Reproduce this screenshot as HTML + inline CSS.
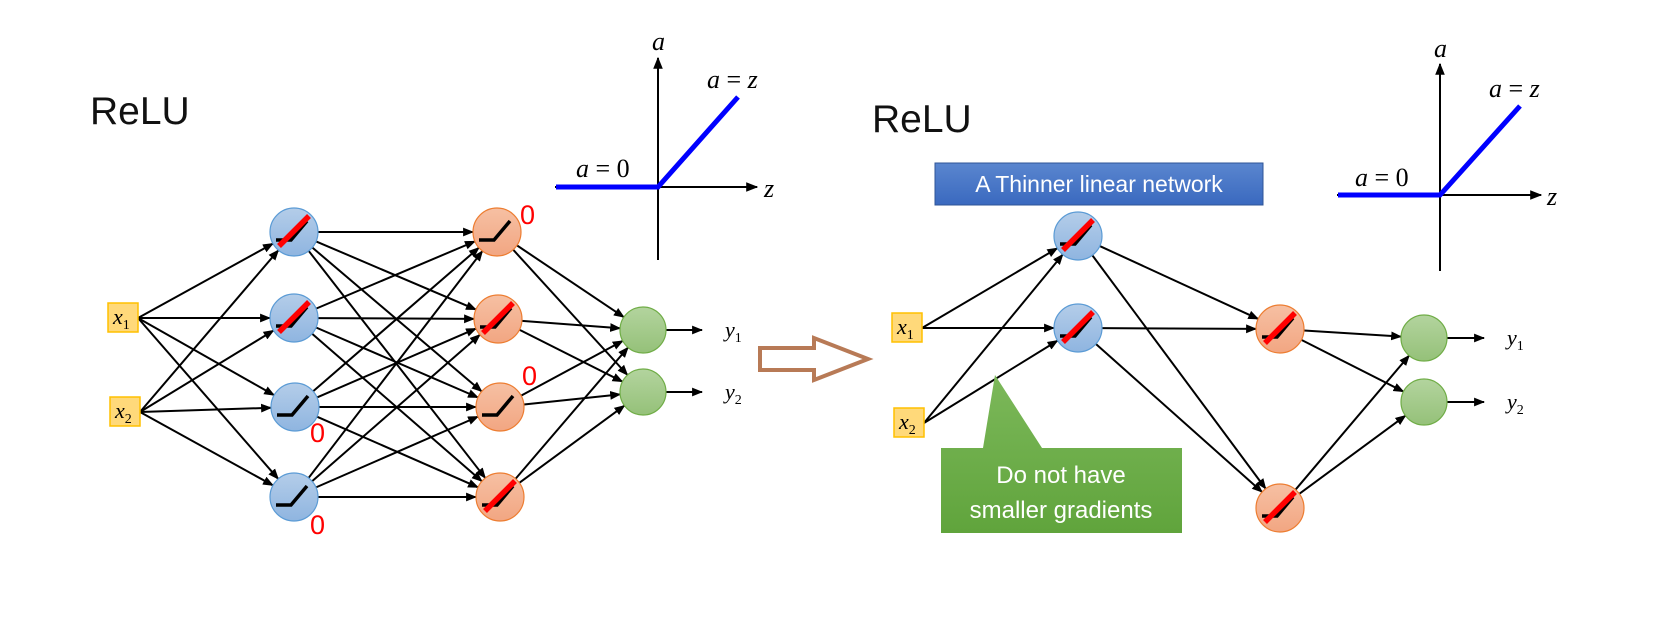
<!DOCTYPE html>
<html><head><meta charset="utf-8"><style>
html,body{margin:0;padding:0;background:#fff;}
svg{display:block;}
text{font-family:"Liberation Sans",sans-serif;}
.m{font-family:"Liberation Serif",serif;font-style:italic;}
</style></head><body>
<svg id="s" width="1671" height="638" viewBox="0 0 1671 638" xmlns="http://www.w3.org/2000/svg">
<defs>
<marker id="ar" viewBox="0 0 10 10" refX="9" refY="5" markerWidth="5.5" markerHeight="5.5" orient="auto"><path d="M0,1 L10,5 L0,9 z" fill="#000"/></marker>
<marker id="ar2" viewBox="0 0 10 10" refX="9" refY="5" markerWidth="6" markerHeight="6" orient="auto"><path d="M0,1 L10,5 L0,9 z" fill="#000"/></marker>
<linearGradient id="gb" x1="0" y1="0" x2="0" y2="1"><stop offset="0" stop-color="#b4cde9"/><stop offset="1" stop-color="#8fb5e0"/></linearGradient>
<linearGradient id="go" x1="0" y1="0" x2="0" y2="1"><stop offset="0" stop-color="#f6c0a3"/><stop offset="1" stop-color="#f2a682"/></linearGradient>
<linearGradient id="gg" x1="0" y1="0" x2="0" y2="1"><stop offset="0" stop-color="#b3d49e"/><stop offset="1" stop-color="#95c179"/></linearGradient>
<linearGradient id="gbl" x1="0" y1="0" x2="0" y2="1"><stop offset="0" stop-color="#5a86cf"/><stop offset="1" stop-color="#3a69bf"/></linearGradient>
<linearGradient id="ggr" x1="0" y1="0" x2="0" y2="1"><stop offset="0" stop-color="#7cb85a"/><stop offset="1" stop-color="#60a43c"/></linearGradient>
</defs>
<g id="edges" stroke="#000" stroke-width="2" fill="none"></g>
<g id="nodes"></g>

<text x="90" y="124" font-size="39" fill="#111">ReLU</text>
<text x="872" y="132" font-size="39" fill="#111">ReLU</text>

<g stroke="#000" stroke-width="2" fill="none">
<line x1="658" y1="260" x2="658" y2="58" marker-end="url(#ar2)"/>
<line x1="555" y1="187" x2="757" y2="187" marker-end="url(#ar2)"/>
</g>
<polyline points="556,187 658,187 738,97" stroke="#0000ff" stroke-width="5" fill="none"/>
<text class="m" x="652" y="50" font-size="26">a</text>
<text class="m" x="707" y="88" font-size="26">a <tspan font-style="normal">= </tspan>z</text>
<text class="m" x="576" y="177" font-size="26">a <tspan font-style="normal">= 0</tspan></text>
<text class="m" x="764" y="197" font-size="26">z</text>

<g stroke="#000" stroke-width="2" fill="none">
<line x1="1440" y1="271" x2="1440" y2="64" marker-end="url(#ar2)"/>
<line x1="1337" y1="195" x2="1541" y2="195" marker-end="url(#ar2)"/>
</g>
<polyline points="1338,195 1440,195 1520,106" stroke="#0000ff" stroke-width="5" fill="none"/>
<text class="m" x="1434" y="57" font-size="26">a</text>
<text class="m" x="1489" y="97" font-size="26">a <tspan font-style="normal">= </tspan>z</text>
<text class="m" x="1355" y="186" font-size="26">a <tspan font-style="normal">= 0</tspan></text>
<text class="m" x="1547" y="205" font-size="26">z</text>

<path d="M760,348 L814,348 L814,338 L868,359 L814,380 L814,370 L760,370 Z" fill="#fff" stroke="#b87a56" stroke-width="4" stroke-linejoin="miter"/>

<rect x="935" y="163" width="328" height="42" fill="url(#gbl)" stroke="#2f5597" stroke-width="1"/>
<text x="1099" y="192" font-size="23" fill="#fff" text-anchor="middle">A Thinner linear network</text>

<path d="M941,448 L983,448 L995,375 L1042,448 L1182,448 L1182,533 L941,533 Z" fill="url(#ggr)"/>
<text x="1061" y="483" font-size="24" fill="#fff" text-anchor="middle">Do not have</text>
<text x="1061" y="518" font-size="24" fill="#fff" text-anchor="middle">smaller gradients</text>

<g fill="#ff0000" font-size="27">
<text x="520" y="224">0</text>
<text x="310" y="442">0</text>
<text x="310" y="534">0</text>
<text x="522" y="385">0</text>
</g>
</svg>
<script>
var NS="http://www.w3.org/2000/svg";
var E=document.getElementById('edges'),N=document.getElementById('nodes');
function el(t,a,p){var e=document.createElementNS(NS,t);for(var k in a)e.setAttribute(k,a[k]);(p||N).appendChild(e);return e;}
function edge(a,b){var dx=b.x-a.x,dy=b.y-a.y,d=Math.sqrt(dx*dx+dy*dy),ux=dx/d,uy=dy/d;
 var s=a.ra||0,t=b.r||0;
 el('line',{x1:a.x+ux*s,y1:a.y+uy*s,x2:b.x-ux*t,y2:b.y-uy*t,'marker-end':'url(#ar)'},E);}
function inp(x,y,sub){el('rect',{x:x-15,y:y-15,width:30,height:29,fill:'#ffd97a',stroke:'#ffc000','stroke-width':1.5});
 var t=el('text',{x:x-10,y:y+6,'font-size':22,'class':'m'});t.textContent='x';
 var s=el('tspan',{'font-size':14,dy:5,'font-style':'normal'},t);s.textContent=sub;
 return {x:x+15,y:y,ra:0,r:15};}
function node(x,y,kind,red){var f={b:'url(#gb)',o:'url(#go)',g:'url(#gg)'}[kind],st={b:'#5b9bd5',o:'#ed7d31',g:'#70ad47'}[kind];
 el('circle',{cx:x,cy:y,r:kind=='g'?23:24,fill:f,stroke:st,'stroke-width':1.2});
 if(kind!='g'){el('polyline',{points:(x-18)+','+(y+8)+' '+(x-3)+','+(y+8)+' '+(x+13)+','+(y-11),stroke:'#000','stroke-width':3.5,fill:'none'});
 if(red)el('line',{x1:x-15,y1:y+14,x2:x+15,y2:y-16,stroke:'#ff0000','stroke-width':5.5});}
 var r=kind=='g'?23:24;return {x:x,y:y,r:r,ra:r};}
var L1=[inp(123,318,'1'),inp(125,412,'2')];
L1[0].x=138;L1[1].x=140;
var H1=[node(294,232,'b',1),node(294,318,'b',1),node(295,407,'b',0),node(294,497,'b',0)];
var H2=[node(497,232,'o',0),node(498,319,'o',1),node(500,407,'o',0),node(500,497,'o',1)];
var O=[node(643,330,'g'),node(643,392,'g')];
L1.forEach(function(a){H1.forEach(function(b){edge(a,b);});});
H1.forEach(function(a){H2.forEach(function(b){edge(a,b);});});
H2.forEach(function(a){O.forEach(function(b){edge(a,b);});});
O.forEach(function(o){el('line',{x1:o.x+23,y1:o.y,x2:702,y2:o.y,'marker-end':'url(#ar)'},E);});
var R1=[inp(907,328,'1'),inp(909,423,'2')];
R1[0].x=922;R1[1].x=924;
var RH1=[node(1078,236,'b',1),node(1078,328,'b',1)];
var RH2=[node(1280,329,'o',1),node(1280,508,'o',1)];
var RO=[node(1424,338,'g'),node(1424,402,'g')];
R1.forEach(function(a){RH1.forEach(function(b){edge(a,b);});});
RH1.forEach(function(a){RH2.forEach(function(b){edge(a,b);});});
RH2.forEach(function(a){RO.forEach(function(b){edge(a,b);});});
RO.forEach(function(o){el('line',{x1:o.x+23,y1:o.y,x2:1484,y2:o.y,'marker-end':'url(#ar)'},E);});
[[725,330,'1'],[725,392,'2'],[1507,338,'1'],[1507,402,'2']].forEach(function(p){
 var t=el('text',{x:p[0],y:p[1]+7,'font-size':22,'class':'m'});t.textContent='y';
 var s=el('tspan',{'font-size':14,dy:5,'font-style':'normal'},t);s.textContent=p[2];});
</script>
</body></html>
